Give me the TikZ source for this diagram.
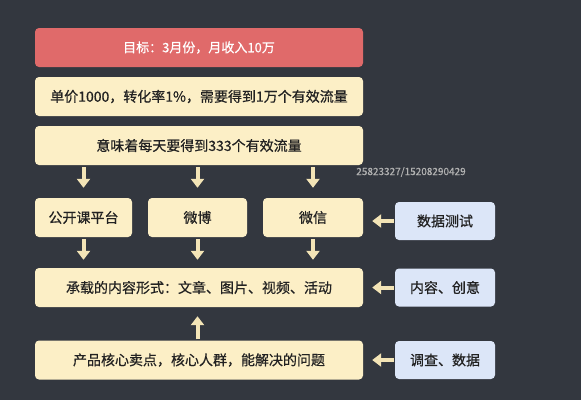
\documentclass[tikz,border=0pt]{standalone}
\usepackage{fontspec}
\setmainfont{Noto Sans CJK SC}[UprightFeatures={FakeBold=0.6}]
\usetikzlibrary{arrows.meta}

\definecolor{board}{HTML}{33373F}
\definecolor{cream}{HTML}{FCEFC6}
\definecolor{goalred}{HTML}{E06A6A}
\definecolor{skyblue}{HTML}{DCE6F8}
\definecolor{ink}{HTML}{222222}
\definecolor{chalk}{HTML}{F3E4B6}

\tikzset{
  card/.style={fill=cream, rounded corners=4pt, inner sep=0pt,
    minimum height=39pt, text=ink, font=\fontsize{14}{16}\selectfont},
  widecard/.style={card, minimum width=328pt},
  smallcard/.style={card, minimum width=98pt},
  helpcard/.style={card, fill=skyblue, minimum width=100pt, minimum height=38pt},
  chalkarrow/.style={draw=chalk, line width=4pt,
    -{Triangle[width=13pt,length=9pt]}}
}

\begin{document}
\begin{tikzpicture}[x=1pt, y=-1pt]
  \fill[board] (0,0) rectangle (581,400);

  \node[widecard, fill=goalred, text=white, font=\fontsize{13}{15}\selectfont] (goal) at (199,47.5) {目标：3月份，月收入10万};
  \node[widecard] (price) at (199,96.5) {单价1000，转化率1\%，需要得到1万个有效流量};
  \node[widecard] (daily) at (199,145.5) {意味着每天要得到333个有效流量};

  \node[smallcard, minimum width=97pt] (course) at (83.5,217.5) {公开课平台};
  \node[smallcard, minimum width=99pt] (weibo) at (197.5,217.5) {微博};
  \node[smallcard, minimum width=100pt] (wechat) at (313,217.5) {微信};

  \node[widecard] (forms) at (199,287.5) {承载的内容形式：文章、图片、视频、活动};
  \node[widecard] (core) at (199,360) {产品核心卖点，核心人群，能解决的问题};

  \node[helpcard] (test) at (445,221) {数据测试};
  \node[helpcard] (idea) at (445,287.5) {内容、创意};
  \node[helpcard] (survey) at (445,360) {调查、数据};

  \node[text=gray!60, font=\fontsize{10}{11}\selectfont] (mark) at (411,172) {25823327/15208290429};

  \draw[chalkarrow, shorten <=2pt, shorten >=10pt] (daily.south -| course) -- (course.north);
  \draw[chalkarrow, shorten <=2pt, shorten >=10pt] (daily.south -| weibo) -- (weibo.north);
  \draw[chalkarrow, shorten <=2pt, shorten >=10pt] (daily.south -| wechat) -- (wechat.north);

  \draw[chalkarrow, shorten <=2pt, shorten >=8pt] (course.south) -- (course.south |- forms.north);
  \draw[chalkarrow, shorten <=2pt, shorten >=8pt] (weibo.south) -- (weibo.south |- forms.north);
  \draw[chalkarrow, shorten <=2pt, shorten >=8pt] (wechat.south) -- (wechat.south |- forms.north);

  \draw[chalkarrow, shorten <=1pt, shorten >=9pt] (core.north -| weibo) -- (forms.south -| weibo);

  \draw[chalkarrow, shorten <=1pt, shorten >=9pt] (test.west) -- (test.west -| wechat.east);
  \draw[chalkarrow, shorten <=1pt, shorten >=9pt] (idea.west) -- (forms.east |- idea.west);
  \draw[chalkarrow, shorten <=1pt, shorten >=9pt] (survey.west) -- (core.east |- survey.west);
\end{tikzpicture}
\end{document}
